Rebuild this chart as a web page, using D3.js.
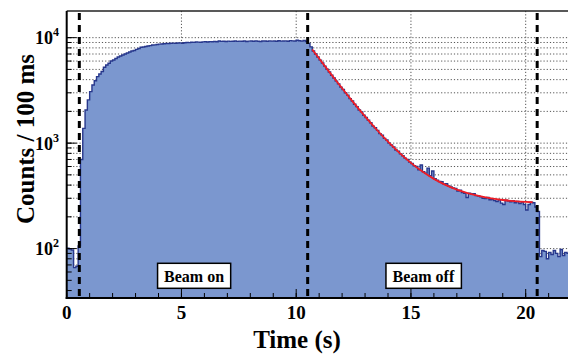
<!DOCTYPE html>
<html>
<head>
<meta charset="utf-8">
<script src="https://cdn.jsdelivr.net/npm/d3@7"></script>
<style>
  body { margin: 0; background: #fff; }
</style>
</head>
<body>
<svg id="chart" width="568" height="356"></svg>
<script>
// counts per 100 ms bin, starting at t = 0 s
const binStart = 0;
const binWidth = 0.1;
const counts = [
  101, 99, 97, 66, 68, 106,
  700, 1380, 2060, 2570, 3080, 3560, 3910, 4270, 4530, 4770, 5240, 5510, 5720, 6010,
  6150, 6350, 6560, 6700, 6850, 7010, 7160, 7320, 7480, 7560,
  7750, 7900, 8110, 8150, 8250, 8350, 8400, 8530, 8550, 8620, 8680, 8700, 8760, 8800,
  8790, 8850, 8880, 8860, 8900, 8930, 8850,
  8950, 9000, 8980, 9050, 9020, 9100, 9080, 9060, 9120, 9150, 9100, 9180, 9160, 9200,
  9150, 9300, 9220, 9250, 9200, 9280, 9230, 9260, 9300, 9220, 9280, 9250, 9310, 9200,
  9270, 9300, 9240, 9330, 9260, 9200, 9290, 9310, 9250, 9320, 9280, 9300, 9260, 9350,
  9280, 9300, 9320, 9260, 9380, 9330, 9300, 9450, 9350, 9280, 9400, 9200,
  8820, 8180, 7480, 6990, 6560, 6120, 5760, 5370, 5010, 4730, 4400, 4150, 3870, 3650,
  3400, 3220, 3000, 2850, 2640, 2510, 2340, 2220, 2060, 1980, 1840, 1750, 1650, 1560,
  1450, 1400, 1320, 1230, 1190, 1110, 1070, 1000, 960, 920, 860, 840, 790, 760, 720,
  700, 660, 640, 610, 600, 560, 620, 535, 520, 580, 490, 545, 460, 445, 432, 430, 410,
  412, 392, 385, 376, 372, 352, 358, 340, 335, 305, 336, 330, 332, 318, 315, 310, 300,
  298, 305, 290, 292, 285, 280, 290, 270, 262, 288, 282, 278, 285, 272, 280, 268, 276,
  262, 232, 262, 276, 272, 248, 225,
  84, 96, 94, 80, 92, 88, 96, 90, 84, 98, 86, 92, 90, 95
];

// fit curve
const fitT = [10.7, 11.0, 11.25, 11.5, 11.75, 12.0, 12.5, 13.0, 13.5, 14.0, 14.5, 15.0,
  15.5, 16.0, 16.5, 17.0, 17.5, 18.0, 18.5, 19.0, 19.5, 20.0, 20.3];
const fitY = [7730, 6335, 5374, 4565, 3884, 3312, 2423, 1793, 1347, 1031, 808, 650,
  537, 458, 402, 362, 334, 314, 299, 289, 282, 277, 275];

const markerT = [0.55, 10.5, 20.5];
const xMajor = [0, 5, 10, 15, 20];
const xMinor = d3.range(0, 23, 1);
const yDecades = [10, 100, 1000, 10000];
const yLabelExp = [2, 3, 4];
const boxLabels = ["Beam on", "Beam off"];
const boxT = [5.55, 15.54];

const serif = "'Liberation Serif', 'Times New Roman', 'DejaVu Serif', serif";
const mLeft = 66.7, mRight = 571.6, mTop = 11, mBottom = 298;
const svg = d3.select("#chart");

const x = d3.scaleLinear().domain([0, 22]).range([mLeft, mRight]);
const y = d3.scaleLog().domain([34, 17900]).range([mBottom, mTop]);

// log sub ticks 1..9 x decade inside domain
const yAll = [];
yDecades.forEach(d => { for (let m = 1; m <= 9; m++) { const v = m * d; if (v >= y.domain()[0] && v <= y.domain()[1]) yAll.push(v); } });

svg.append("clipPath").attr("id", "clip")
  .append("rect").attr("x", mLeft).attr("y", mTop).attr("width", mRight - mLeft).attr("height", mBottom - mTop);

const plot = svg.append("g").attr("clip-path", "url(#clip)");

// grid
plot.selectAll(".hgrid").data(yAll).enter().append("line")
  .attr("x1", mLeft).attr("x2", mRight)
  .attr("y1", d => y(d)).attr("y2", d => y(d))
  .attr("stroke", "#555").attr("stroke-width", 1).attr("stroke-dasharray", "1.2,2");
plot.selectAll(".vgrid").data(xMajor.filter(d => d > 0)).enter().append("line")
  .attr("x1", d => x(d)).attr("x2", d => x(d))
  .attr("y1", mTop).attr("y2", mBottom)
  .attr("stroke", "#555").attr("stroke-width", 1).attr("stroke-dasharray", "1.2,2");

// histogram
const bins = counts.map((c, i) => ({ t: binStart + i * binWidth, v: c }));
bins.push({ t: binStart + counts.length * binWidth, v: counts[counts.length - 1] });

plot.append("path").datum(bins)
  .attr("fill", "#7b97cf")
  .attr("d", d3.area().curve(d3.curveStepAfter).x(d => x(d.t)).y0(mBottom).y1(d => y(d.v)));

plot.append("path").datum(bins)
  .attr("fill", "none").attr("stroke", "#27378c").attr("stroke-width", 1.4)
  .attr("d", d3.line().curve(d3.curveStepAfter).x(d => x(d.t)).y(d => y(d.v)));

// fit
plot.append("path").datum(fitT.map((t, i) => [t, fitY[i]]))
  .attr("fill", "none").attr("stroke", "#ee1c25").attr("stroke-width", 1.8)
  .attr("d", d3.line().curve(d3.curveMonotoneX).x(d => x(d[0])).y(d => y(d[1])));

// beam on/off markers
plot.selectAll(".marker").data(markerT).enter().append("line")
  .attr("x1", d => x(d)).attr("x2", d => x(d))
  .attr("y1", mTop + 2).attr("y2", mBottom)
  .attr("stroke", "#000").attr("stroke-width", 3).attr("stroke-dasharray", "7,5");

// frame
svg.append("line").attr("x1", mLeft).attr("x2", mRight).attr("y1", mTop).attr("y2", mTop)
  .attr("stroke", "#222").attr("stroke-width", 1.5);
svg.append("line").attr("x1", mLeft).attr("x2", mLeft).attr("y1", mTop).attr("y2", mBottom + 1)
  .attr("stroke", "#000").attr("stroke-width", 2);
svg.append("line").attr("x1", mLeft - 1).attr("x2", mRight).attr("y1", mBottom).attr("y2", mBottom)
  .attr("stroke", "#000").attr("stroke-width", 2);

// x ticks (inward)
svg.selectAll(".xminor").data(xMinor).enter().append("line")
  .attr("x1", d => x(d)).attr("x2", d => x(d))
  .attr("y1", mBottom).attr("y2", mBottom - 5)
  .attr("stroke", "#000").attr("stroke-width", 1);
svg.selectAll(".xmajor").data(xMajor).enter().append("line")
  .attr("x1", d => x(d)).attr("x2", d => x(d))
  .attr("y1", mBottom).attr("y2", mBottom - 9)
  .attr("stroke", "#000").attr("stroke-width", 1);
svg.selectAll(".xlab").data(xMajor).enter().append("text")
  .attr("x", d => x(d)).attr("y", 319)
  .attr("text-anchor", "middle")
  .attr("font-family", serif).attr("font-weight", "bold").attr("font-size", 19)
  .text(d => d);

// y ticks (inward)
svg.selectAll(".yminor").data(yAll).enter().append("line")
  .attr("x1", mLeft).attr("x2", mLeft + 5)
  .attr("y1", d => y(d)).attr("y2", d => y(d))
  .attr("stroke", "#000").attr("stroke-width", 1);
svg.selectAll(".ymajor").data(yAll.filter(d => yDecades.includes(d))).enter().append("line")
  .attr("x1", mLeft).attr("x2", mLeft + 10)
  .attr("y1", d => y(d)).attr("y2", d => y(d))
  .attr("stroke", "#000").attr("stroke-width", 1);

const ylab = svg.selectAll(".ylab").data(yLabelExp).enter().append("text")
  .attr("x", 59).attr("y", d => y(Math.pow(10, d)) + 6.5)
  .attr("text-anchor", "end")
  .attr("font-family", serif).attr("font-weight", "bold").attr("font-size", 18);
ylab.append("tspan").text("10");
ylab.append("tspan").attr("font-size", 12).attr("dy", -8).text(d => d);

// axis titles
svg.append("text").attr("x", 297).attr("y", 348)
  .attr("text-anchor", "middle")
  .attr("font-family", serif).attr("font-weight", "bold").attr("font-size", 25)
  .text("Time (s)");
svg.append("text").attr("transform", "translate(34,139) rotate(-90)")
  .attr("text-anchor", "middle")
  .attr("font-family", serif).attr("font-weight", "bold").attr("font-size", 25)
  .text("Counts / 100 ms");

// beam on / off boxes
boxLabels.forEach((lab, i) => {
  const g = svg.append("g");
  const txt = g.append("text").attr("x", x(boxT[i])).attr("y", 281.5)
    .attr("text-anchor", "middle")
    .attr("font-family", serif).attr("font-weight", "bold").attr("font-size", 16)
    .text(lab);
  const bb = txt.node().getBBox();
  g.insert("rect", "text")
    .attr("x", bb.x - 6.5).attr("y", 263.3)
    .attr("width", bb.width + 13).attr("height", 25)
    .attr("fill", "#fff").attr("stroke", "#000").attr("stroke-width", 1.5);
});
</script>
</body>
</html>
